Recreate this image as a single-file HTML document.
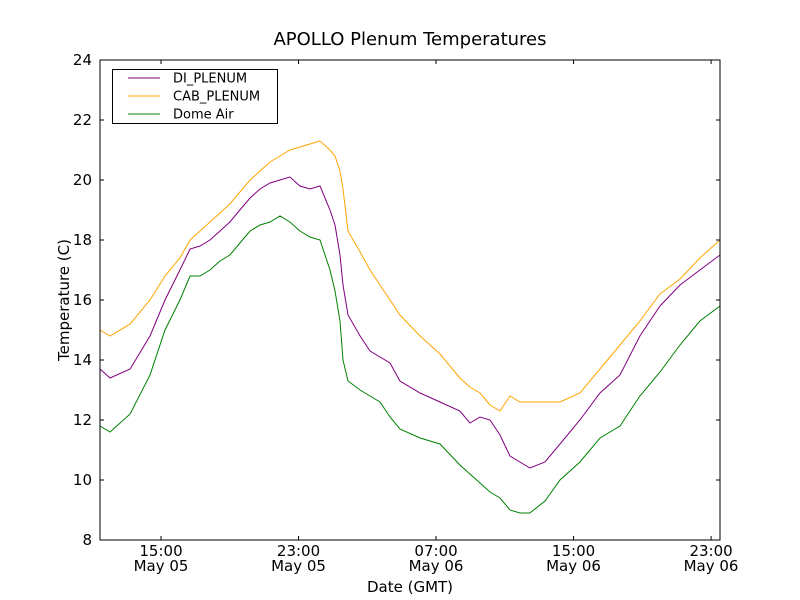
<!DOCTYPE html>
<html><head><meta charset="utf-8"><style>
body{margin:0;background:#fff;}
svg{display:block;font-family:"DejaVu Sans","Liberation Sans",sans-serif;}
</style></head><body>
<svg id="chart" width="800" height="600" viewBox="0 0 800 600">
<rect x="0" y="0" width="800" height="600" fill="#fff"/>
<text x="410" y="45" font-size="18" text-anchor="middle">APOLLO Plenum Temperatures</text>
<g id="series"></g>
<g id="axes"></g>
<rect x="100" y="60" width="620" height="480" fill="none" stroke="#000" stroke-width="1"/>
<text x="410" y="592" font-size="15" text-anchor="middle">Date (GMT)</text>
<text x="69" y="300" font-size="15" text-anchor="middle" transform="rotate(-90 69 300)">Temperature (C)</text>
<g>
<rect x="112.5" y="69.5" width="165" height="54" fill="#fff" stroke="#000" stroke-width="1"/>
<line x1="128" y1="78" x2="160" y2="78" stroke="purple"/>
<text x="173" y="82.5" font-size="13">DI_PLENUM</text>
<line x1="128" y1="96" x2="160" y2="96" stroke="orange"/>
<text x="173" y="100.5" font-size="13">CAB_PLENUM</text>
<line x1="128" y1="114" x2="160" y2="114" stroke="green"/>
<text x="173" y="118.5" font-size="13">Dome Air</text>
</g>
</svg>
<script>
// hours since May 05 00:00 GMT
const times = [11.45,12.03,13.20,14.36,15.23,16.10,16.69,17.27,17.85,18.43,19.01,19.59,20.18,20.76,21.34,21.92,22.50,23.08,23.67,24.25,24.83,25.12,25.41,25.59,25.88,26.58,27.16,27.74,28.32,28.90,30.07,31.23,32.39,32.97,33.56,34.14,34.72,35.30,35.88,36.46,37.34,38.21,39.37,40.54,41.70,42.86,44.03,45.19,46.35,47.52];
const diPlenum = [13.7,13.4,13.7,14.8,16.0,17.0,17.7,17.8,18.0,18.3,18.6,19.0,19.4,19.7,19.9,20.0,20.1,19.8,19.7,19.8,19.0,18.5,17.5,16.5,15.5,14.8,14.3,14.1,13.9,13.3,12.9,12.6,12.3,11.9,12.1,12.0,11.5,10.8,10.6,10.4,10.6,11.2,12.0,12.9,13.5,14.8,15.8,16.5,17.0,17.5];
const cabPlenum = [15.0,14.8,15.2,16.0,16.8,17.4,18.0,18.3,18.6,18.9,19.2,19.6,20.0,20.3,20.6,20.8,21.0,21.1,21.2,21.3,21.0,20.8,20.3,19.7,18.3,17.6,17.0,16.5,16.0,15.5,14.8,14.2,13.4,13.1,12.9,12.5,12.3,12.8,12.6,12.6,12.6,12.6,12.9,13.7,14.5,15.3,16.2,16.7,17.4,18.0];
const domeAir = [11.8,11.6,12.2,13.5,15.0,16.0,16.8,16.8,17.0,17.3,17.5,17.9,18.3,18.5,18.6,18.8,18.6,18.3,18.1,18.0,17.0,16.3,15.3,14.0,13.3,13.0,12.8,12.6,12.1,11.7,11.4,11.2,10.5,10.2,9.9,9.6,9.4,9.0,8.9,8.9,9.3,10.0,10.6,11.4,11.8,12.8,13.6,14.5,15.3,15.8];
const yTicks = [8,10,12,14,16,18,20,22,24];
const xTickHours = [15,23,31,39,47];
const xTickTimes = ["15:00","23:00","07:00","15:00","23:00"];
const xTickDates = ["May 05","May 05","May 06","May 06","May 06"];

const NS="http://www.w3.org/2000/svg";
const X0=100,X1=720,Y0=540,Y1=60,TMIN=11.45,TMAX=47.52,VMIN=8,VMAX=24;
function xs(t){return X0+(t-TMIN)/(TMAX-TMIN)*(X1-X0);}
function ys(v){return Y0-(v-VMIN)/(VMAX-VMIN)*(Y0-Y1);}
function mk(tag,attrs,parent){const e=document.createElementNS(NS,tag);for(const k in attrs)e.setAttribute(k,attrs[k]);parent.appendChild(e);return e;}
const sg=document.getElementById('series'), ag=document.getElementById('axes');
function drawSeries(vals,color,name){
  const d=vals.map((v,i)=>(i?'L':'M')+xs(times[i]).toFixed(1)+','+ys(v).toFixed(1)).join('');
  const p=mk('path',{d:d,fill:'none',stroke:color,'stroke-width':1},sg);
  
  
}
drawSeries(cabPlenum,'orange','series-cab-plenum');
drawSeries(diPlenum,'purple','series-di-plenum');
drawSeries(domeAir,'green','series-dome-air');
yTicks.forEach(v=>{
  const y=ys(v);
  mk('line',{x1:X0,y1:y,x2:X0+4,y2:y,stroke:'#000'},ag);
  mk('line',{x1:X1,y1:y,x2:X1-4,y2:y,stroke:'#000'},ag);
  const t=mk('text',{x:X0-8,y:y+5,'font-size':15,'text-anchor':'end'},ag);
  t.textContent=v;
  
  
});
xTickHours.forEach((h,i)=>{
  const x=xs(h);
  mk('line',{x1:x,y1:Y0,x2:x,y2:Y0-4,stroke:'#000'},ag);
  mk('line',{x1:x,y1:Y1,x2:x,y2:Y1+4,stroke:'#000'},ag);
  const t=mk('text',{x:x,y:556,'font-size':15,'text-anchor':'middle'},ag);
  t.textContent=xTickTimes[i];
  
  
  const t2=mk('text',{x:x,y:571,'font-size':15,'text-anchor':'middle'},ag);
  t2.textContent=xTickDates[i];
  
  
});
</script>
</body></html>
